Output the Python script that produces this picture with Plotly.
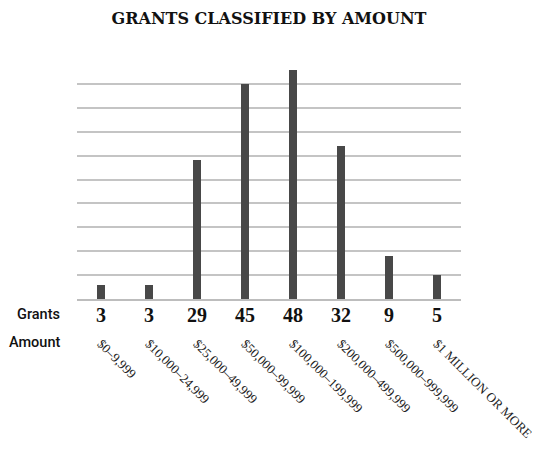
import plotly.graph_objects as go

categories = ["$0–9,999", "$10,000–24,999", "$25,000–49,999", "$50,000–99,999",
              "$100,000–199,999", "$200,000–499,999", "$500,000–999,999", "$1 MILLION OR MORE"]
grants = [3, 3, 29, 45, 48, 32, 9, 5]

fig = go.Figure()
fig.add_trace(go.Bar(x=categories, y=grants, marker=dict(color="#484848", line=dict(width=0)),
                     width=0.17, hoverinfo="skip"))

for c, g in zip(categories, grants):
    fig.add_annotation(x=c, y=-0.065, xref="x", yref="paper", text="<b>" + str(g) + "</b>", showarrow=False,
                       font=dict(family="Liberation Serif", size=20, color="#111111"),
                       yanchor="middle", xanchor="center")

label_font = dict(family="Roboto", size=14.5, weight=500, color="#111111")
fig.add_annotation(x=-0.039, y=-0.065, xref="paper", yref="paper", text="Grants", showarrow=False,
                   xanchor="right", yanchor="middle", font=label_font)
fig.add_annotation(x=-0.039, y=-0.18, xref="paper", yref="paper", text="Amount", showarrow=False,
                   xanchor="right", yanchor="middle", font=label_font)

fig.update_layout(
    width=540, height=449,
    margin=dict(l=69, r=87, t=52, b=158),
    paper_bgcolor="white", plot_bgcolor="white",
    showlegend=False,
    title=dict(text="<b>GRANTS CLASSIFIED BY AMOUNT</b>", xref="paper", x=0.5, xanchor="center",
               y=0.977, yanchor="middle",
               font=dict(family="DejaVu Serif", size=16, color="#111111")),
    bargap=0,
)
fig.update_xaxes(tickangle=45, showgrid=False, showline=True, linecolor="#bdbdbd", linewidth=2,
                 ticks="", ticklabelstandoff=30,
                 tickfont=dict(family="Liberation Serif", size=13, color="#222222"))
fig.update_yaxes(range=[0, 50], dtick=5, showticklabels=False, showgrid=True, gridcolor="#c4c4c4",
                 gridwidth=2, zeroline=False, showline=False, ticks="")

fig.write_html("out.html")
